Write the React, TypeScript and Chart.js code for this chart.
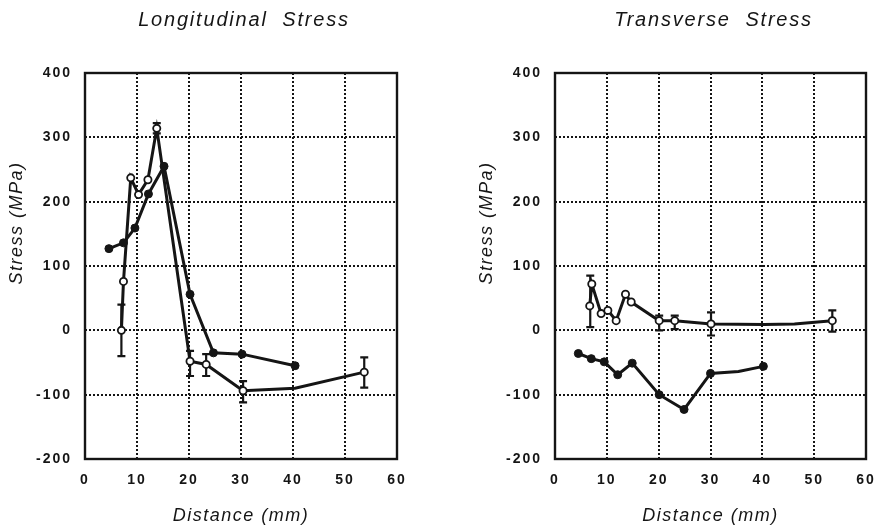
import React, { useEffect, useRef } from "react";
import { Chart, registerables } from "chart.js";

Chart.register(...registerables);

// ---- Data ----
const xTicks = [0, 10, 20, 30, 40, 50, 60];
const yTicks = [-200, -100, 0, 100, 200, 300, 400];

// Longitudinal stress
const longOpenX = [7.0, 7.4, 8.8, 10.3, 12.1, 13.8, 20.2, 23.3, 30.4, 40.4, 53.7];
const longOpenY = [0, 76, 237, 211, 234, 314, -48, -53, -94, -90, -65];
const longOpenMarker = [1, 1, 1, 1, 1, 1, 1, 1, 1, 0, 1];
const longFilledX = [4.6, 7.4, 9.6, 12.2, 15.2, 20.2, 24.7, 30.2, 40.4];
const longFilledY = [127, 136, 159, 212, 255, 56, -35, -37, -55];
const longFilledMarker = [1, 1, 1, 1, 1, 1, 1, 1, 1];
const longErrX = [7.0, 13.8, 20.2, 23.3, 30.4, 53.7];
const longErrLow = [-40, 306, -71, -71, -112, -89];
const longErrHigh = [40, 322, -32, -37, -79, -42];

// Transverse stress
const transOpenX = [6.7, 7.1, 8.9, 10.2, 11.8, 13.6, 14.7, 20.1, 23.1, 30.1, 40.3, 46.2, 53.5];
const transOpenY = [38, 72, 26, 31, 15, 56, 44, 15, 15, 10, 9, 10, 15];
const transOpenMarker = [1, 1, 1, 1, 1, 1, 1, 1, 1, 1, 0, 0, 1];
const transFilledX = [4.5, 7.0, 9.5, 12.1, 14.9, 20.1, 24.9, 30.0, 35.4, 40.2];
const transFilledY = [-36, -44, -49, -69, -51, -100, -123, -67, -64, -56];
const transFilledMarker = [1, 1, 1, 1, 1, 1, 1, 1, 0, 1];
const transErrX = [6.8, 20.1, 23.1, 30.1, 53.5];
const transErrLow = [5, 0, 2, -8, -2];
const transErrHigh = [85, 23, 23, 28, 31];

const FONT = '"Liberation Sans", Arial, Helvetica, sans-serif';
const INK = "#151515";

type Err = { x: number[]; lo: number[]; hi: number[] };

function zip(xs: number[], ys: number[]) {
  return xs.map((x, i) => ({ x, y: ys[i] }));
}

function makeDecor(title: string, errs: Err) {
  return {
    id: "decor",
    beforeDraw(chart: any) {
      chart.ctx.letterSpacing = "2px";
    },
    beforeDatasetsDraw(chart: any) {
      const ctx = chart.ctx;
      const xs = chart.scales.x;
      const ys = chart.scales.y;
      ctx.save();
      ctx.strokeStyle = INK;
      ctx.lineWidth = 2.2;
      ctx.setLineDash([]);
      errs.x.forEach((xv, i) => {
        const px = xs.getPixelForValue(xv);
        const p1 = ys.getPixelForValue(errs.lo[i]);
        const p2 = ys.getPixelForValue(errs.hi[i]);
        ctx.beginPath();
        ctx.moveTo(px, p1);
        ctx.lineTo(px, p2);
        ctx.moveTo(px - 4, p1);
        ctx.lineTo(px + 4, p1);
        ctx.moveTo(px - 4, p2);
        ctx.lineTo(px + 4, p2);
        ctx.stroke();
      });
      ctx.restore();
    },
    afterDraw(chart: any) {
      const ctx = chart.ctx;
      const a = chart.chartArea;
      ctx.save();
      ctx.setLineDash([]);
      ctx.strokeStyle = INK;
      ctx.lineWidth = 2.4;
      ctx.strokeRect(a.left, a.top, a.right - a.left, a.bottom - a.top);
      ctx.letterSpacing = "1.8px";
      ctx.fillStyle = INK;
      const cx = (a.left + a.right) / 2;
      ctx.textAlign = "center";
      ctx.textBaseline = "alphabetic";
      ctx.font = `italic 20px ${FONT}`;
      ctx.fillText(title, cx + 3, 26);
      ctx.font = `italic 18px ${FONT}`;
      ctx.letterSpacing = "1.5px";
      ctx.fillText("Distance (mm)", cx, 521);
      ctx.translate(a.left - 68, 223);
      ctx.rotate(-Math.PI / 2);
      ctx.textBaseline = "middle";
      ctx.fillText("Stress (MPa)", 0, 0);
      ctx.restore();
    },
  };
}

function buildConfig(
  title: string,
  openX: number[],
  openY: number[],
  openM: number[],
  fillX: number[],
  fillY: number[],
  fillM: number[],
  errs: Err,
  padLeft: number,
  padRight: number
): any {
  return {
    type: "line",
    data: {
      datasets: [
        {
          data: zip(fillX, fillY),
          borderColor: INK,
          borderWidth: 3,
          backgroundColor: INK,
          pointBackgroundColor: INK,
          pointBorderColor: INK,
          pointBorderWidth: 1,
          pointRadius: fillM.map((m) => (m ? 4 : 0)),
          tension: 0,
          fill: false,
        },
        {
          data: zip(openX, openY),
          borderColor: INK,
          borderWidth: 3,
          backgroundColor: "#fff",
          pointBackgroundColor: "#fff",
          pointBorderColor: INK,
          pointBorderWidth: 1.8,
          pointRadius: openM.map((m) => (m ? 3.6 : 0)),
          tension: 0,
          fill: false,
        },
      ],
    },
    options: {
      responsive: false,
      animation: false,
      events: [],
      layout: { padding: { top: 73, left: padLeft, right: padRight, bottom: 0 } },
      plugins: {
        legend: { display: false },
        title: { display: false },
        tooltip: { enabled: false },
      },
      scales: {
        x: {
          type: "linear",
          min: 0,
          max: 60,
          afterBuildTicks: (s: any) => {
            s.ticks = xTicks.map((v) => ({ value: v }));
          },
          afterFit: (s: any) => {
            s.height = 69;
            s.paddingLeft = 0;
            s.paddingRight = 0;
          },
          ticks: {
            autoSkip: false,
            maxRotation: 0,
            padding: 13,
            color: INK,
            font: { family: FONT, size: 14, weight: "bold" },
          },
          grid: { color: INK, lineWidth: 2, drawTicks: false },
          border: { display: false, dash: [2, 2] },
        },
        y: {
          type: "linear",
          min: -200,
          max: 400,
          afterBuildTicks: (s: any) => {
            s.ticks = yTicks.map((v) => ({ value: v }));
          },
          afterFit: (s: any) => {
            s.width = 85;
            s.paddingTop = 0;
            s.paddingBottom = 0;
          },
          ticks: {
            autoSkip: false,
            padding: 13,
            color: INK,
            font: { family: FONT, size: 14, weight: "bold" },
          },
          grid: { color: INK, lineWidth: 2, drawTicks: false },
          border: { display: false, dash: [2, 2] },
        },
      },
    },
    plugins: [makeDecor(title, errs)],
  };
}

function Panel(props: { cfg: () => any; left: number }) {
  const ref = useRef<HTMLCanvasElement | null>(null);
  useEffect(() => {
    if (!ref.current) return;
    const chart = new Chart(ref.current, props.cfg());
    return () => chart.destroy();
  }, []);
  return (
    <canvas
      ref={ref}
      width={440}
      height={528}
      style={{ position: "absolute", left: props.left, top: 0, width: 440, height: 528, display: "block" }}
    />
  );
}

export default function App() {
  return (
    <div style={{ position: "absolute", left: 0, top: 0, width: 880, height: 528, background: "#fff" }}>
      <Panel
        left={0}
        cfg={() =>
          buildConfig(
            "Longitudinal  Stress",
            longOpenX,
            longOpenY,
            longOpenMarker,
            longFilledX,
            longFilledY,
            longFilledMarker,
            { x: longErrX, lo: longErrLow, hi: longErrHigh },
            0,
            43
          )
        }
      />
      <Panel
        left={440}
        cfg={() =>
          buildConfig(
            "Transverse  Stress",
            transOpenX,
            transOpenY,
            transOpenMarker,
            transFilledX,
            transFilledY,
            transFilledMarker,
            { x: transErrX, lo: transErrLow, hi: transErrHigh },
            30,
            14
          )
        }
      />
    </div>
  );
}
